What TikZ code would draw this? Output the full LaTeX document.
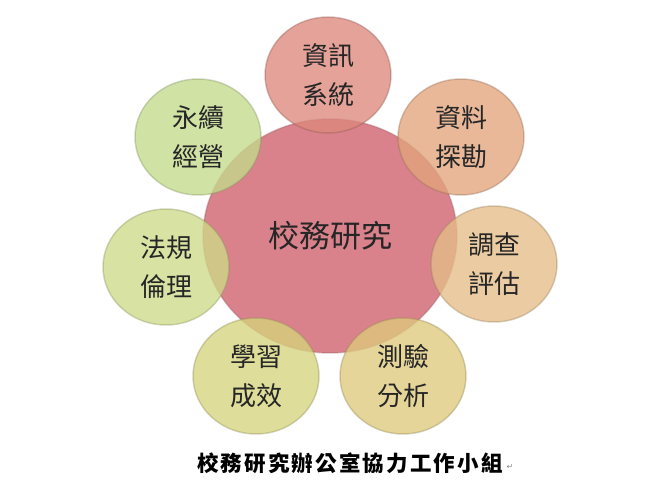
\documentclass[tikz,border=0pt]{standalone}
\usepackage{fontspec}
\newfontfamily\cjkfont{Noto Sans CJK TC}
\newfontfamily\markfont{DejaVu Sans}
\usepackage{tikz}
\usetikzlibrary{positioning,shapes.geometric}

\definecolor{hubpink}{RGB}{218,130,139}
\definecolor{infored}{RGB}{220,136,124}
\definecolor{mineorange}{RGB}{225,164,124}
\definecolor{surveytan}{RGB}{229,190,136}
\definecolor{testtan}{RGB}{222,201,124}
\definecolor{learnyellow}{RGB}{213,211,124}
\definecolor{lawgreen}{RGB}{205,218,136}
\definecolor{sustaingreen}{RGB}{195,219,140}

\tikzset{
  bubble/.style={ellipse, inner sep=0pt, minimum width=126pt, minimum height=116pt,
    fill=#1, fill opacity=0.78, draw=#1!65!black, draw opacity=0.35, line width=1.5pt,
    text opacity=1, text=black!85, align=center,
    font=\cjkfont\fontsize{26}{39}\selectfont},
  hub/.style={ellipse, inner sep=0pt, minimum width=254pt, minimum height=234pt,
    fill=hubpink, draw=hubpink!70!black, draw opacity=0.35, line width=1.5pt,
    text=black!85, font=\cjkfont\fontsize{31}{36}\selectfont},
}

\begin{document}
\begin{tikzpicture}[x=1pt,y=1pt]
    \useasboundingbox (0,0) rectangle (656,501);

    \node[hub] (IR) at (330,265) {校務研究};

    \node[bubble=infored]      (info)    at (328,426) {資訊\\系統};
    \node[bubble=mineorange]   (mining)  at (461,364) {資料\\探勘};
    \node[bubble=surveytan]    (survey)  at (494,237) {調查\\評估};
    \node[bubble=testtan]      (testing) at (403,125) {測驗\\分析};
    \node[bubble=learnyellow]  (learn)   at (256,125) {學習\\成效};
    \node[bubble=lawgreen]     (ethics)  at (166,234) {法規\\倫理};
    \node[bubble=sustaingreen] (sustain) at (198,364) {永續\\經營};

    \node[font=\cjkfont\bfseries\fontsize{21.5}{24}\selectfont\addfontfeature{LetterSpace=10}]
      (caption) at (350,38) {校務研究辦公室協力工作小組};
    \node[right=-3pt of caption.east, font=\markfont\fontsize{8}{8}\selectfont,
      text=black!45, yshift=-4pt] (mark) {↵};
\end{tikzpicture}
\end{document}
